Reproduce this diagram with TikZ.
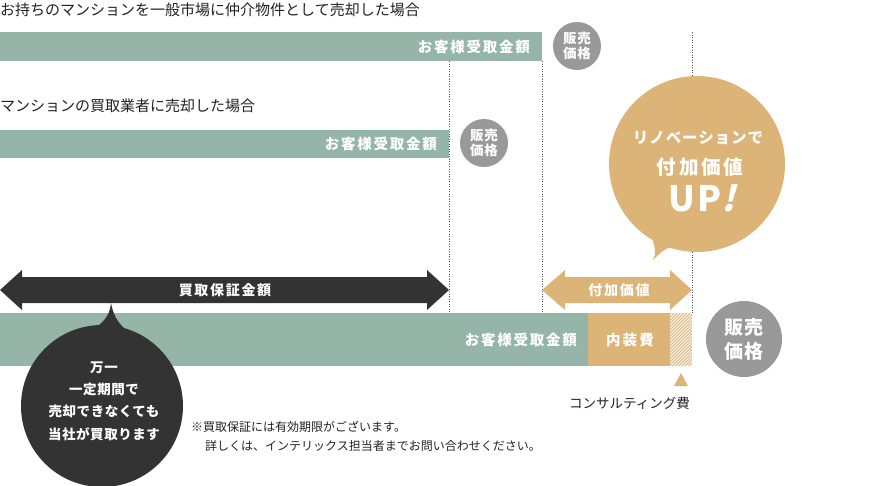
\documentclass[tikz,border=0pt]{standalone}
\usepackage{fontspec}
\setmainfont{Noto Sans CJK JP}
\definecolor{bargreen}{HTML}{94B5A8}
\definecolor{barorange}{HTML}{DDB478}
\definecolor{circgray}{HTML}{999999}
\definecolor{darkgray}{HTML}{333333}
\definecolor{dotgray}{HTML}{555555}
\definecolor{textdark}{HTML}{222222}
\tikzset{
  titletext/.style={anchor=west, inner sep=0pt, text=textdark, font=\fontsize{15}{15}\selectfont},
  bartext/.style={anchor=east, inner sep=0pt, text=white, font=\bfseries\fontsize{14.5}{15}\selectfont\addfontfeature{LetterSpace=12}},
  graycirc/.style={circle, fill=circgray, inner sep=0pt, text=white, align=center},
  dotline/.style={dotgray, line width=0.8pt, dash pattern=on 1pt off 1.5pt},
  arrowtext/.style={inner sep=0pt, text=white, font=\bfseries\fontsize{14}{15}\selectfont\addfontfeature{LetterSpace=12}},
  notetext/.style={anchor=west, inner sep=0pt, text=textdark, font=\fontsize{12}{12}\selectfont},
}
\begin{document}
\begin{tikzpicture}[x=1pt,y=-1pt]
\useasboundingbox (0,0) rectangle (870,485);
\clip (0,0) rectangle (870,485);

% titles
\node[titletext] (t1) at (0,10) {お持ちのマンションを一般市場に仲介物件として売却した場合};
\node[titletext] (t2) at (0,106) {マンションの買取業者に売却した場合};

% dotted guide coordinates
\coordinate (d1top) at (449,61);  \coordinate (d1bot) at (449,313);
\coordinate (d2top) at (542,61);  \coordinate (d2bot) at (542,313);
\coordinate (d3top) at (692,32);  \coordinate (d3bot) at (692,313);
\draw[dotline] (d1top) -- (d1bot);
\draw[dotline] (d2top) -- (d2bot);
\draw[dotline] (d3top) -- (d3bot);

% bar 1
\node[fill=bargreen, anchor=north west, minimum width=542pt, minimum height=29pt, inner sep=0pt] (bar1) at (0,32) {};
\node[bartext] (bar1t) at (530,46.5) {お客様受取金額};
\node[graycirc, minimum size=48pt, font=\bfseries\fontsize{13.5}{14.5}\selectfont\addfontfeature{LetterSpace=6}] (c1) at (577,46) {販売\\価格};

% bar 2
\node[fill=bargreen, anchor=north west, minimum width=449pt, minimum height=28pt, inner sep=0pt] (bar2) at (0,130) {};
\node[bartext] (bar2t) at (437,144) {お客様受取金額};
\node[graycirc, minimum size=48pt, font=\bfseries\fontsize{13.5}{14.5}\selectfont\addfontfeature{LetterSpace=6}] (c2) at (484,143) {販売\\価格};

% bar 3
\node[fill=bargreen, anchor=north west, minimum width=588pt, minimum height=53pt, inner sep=0pt] (bar3) at (0,313) {};
\node[fill=barorange, anchor=north west, minimum width=82pt, minimum height=53pt, inner sep=0pt] (bar3o) at (588,313) {};
\node[fill=barorange!85!white, anchor=north west, minimum width=22pt, minimum height=53pt, inner sep=0pt] (bar3h) at (670,313) {};
\begin{scope}
  \clip (bar3h.north west) rectangle (bar3h.south east);
  \foreach \i in {0,3.2,...,90} {
    \draw[white, line width=0.7pt] (670+\i-60,366) -- (670+\i-60+53,313);
  }
\end{scope}
\node[bartext] (bar3t) at (577,340) {お客様受取金額};
\node[bartext, anchor=center, font=\bfseries\fontsize{14.5}{15}\selectfont\addfontfeature{LetterSpace=14}] (bar3ot) at (630,340) {内装費};
\node[graycirc, minimum size=76pt, font=\bfseries\fontsize{19}{24}\selectfont\addfontfeature{LetterSpace=8}] (c3) at (744,339) {販売\\価格};

% consulting marker
\fill[barorange] (681,373) -- (688,386) -- (674,386) -- cycle;
\node[inner sep=0pt, text=textdark, font=\fontsize{13.5}{14}\selectfont, anchor=east] (cons) at (690,403) {コンサルティング費};

% dark double arrow
\fill[darkgray] (0,290) -- (22,270) -- (22,277) -- (427,277) -- (427,270) -- (449,290) -- (427,310) -- (427,303) -- (22,303) -- (22,310) -- cycle;
\node[arrowtext] (arr1t) at (225,290) {買取保証金額};

% orange double arrow
\fill[barorange] (542,290) -- (565,270) -- (565,277) -- (670,277) -- (670,270) -- (692,290) -- (670,310) -- (670,303) -- (565,303) -- (565,310) -- cycle;
\node[arrowtext] (arr2t) at (619,290) {付加価値};

% dark speech bubble
\node[circle, fill=darkgray, minimum size=162pt, inner sep=0pt] (bub1) at (102,406) {};
\fill[darkgray] (95,328) .. controls (107,320) and (110,312) .. (111,303) .. controls (113,313) and (116,321) .. (126,330) -- cycle;
\node[inner sep=0pt, text=white, align=center, font=\bfseries\fontsize{13.5}{22.3}\selectfont\addfontfeature{LetterSpace=4}] (bub1t) at (104,401) {万一\\一定期間で\\売却できなくても\\当社が買取ります};

% orange speech bubble
\node[circle, fill=barorange, minimum size=176pt, inner sep=0pt] (bub2) at (697,164) {};
\fill[barorange] (651,236) .. controls (656,248) and (656,254) .. (653,260) .. controls (659,254) and (664,249) .. (673,246) -- cycle;
\node[inner sep=0pt, text=white, font=\bfseries\fontsize{15.5}{16}\selectfont\addfontfeature{LetterSpace=6}] (bub2a) at (698,138) {リノベーションで};
\node[inner sep=0pt, text=white, font=\bfseries\fontsize{19.5}{20}\selectfont\addfontfeature{LetterSpace=14}] (bub2b) at (700,167) {付加価値};
\node[inner sep=0pt, text=white, font=\bfseries\fontsize{35}{36}\selectfont\addfontfeature{LetterSpace=8}] (bub2c) at (702,198) {UP{\addfontfeature{FakeSlant=0.25}!}};

% notes
\node[notetext] (n1) at (191,427) {※買取保証には有効期限がございます。};
\node[notetext] (n2) at (205,446) {詳しくは、インテリックス担当者までお問い合わせください。};
\end{tikzpicture}
\end{document}
